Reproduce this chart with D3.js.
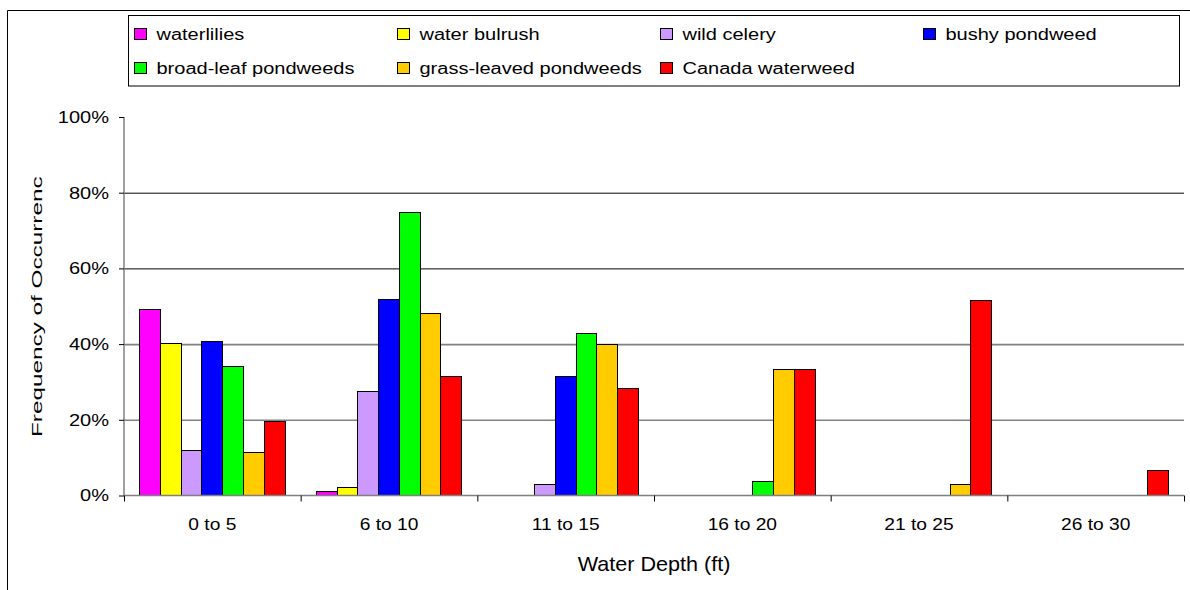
<!DOCTYPE html>
<html>
<head>
<meta charset="utf-8">
<script src="https://cdn.jsdelivr.net/npm/d3@7"></script>
<style>
  html, body { margin: 0; padding: 0; background: #fff; }
  svg { display: block; font-family: "Liberation Sans", Arial, sans-serif; }
</style>
</head>
<body>
<svg id="chart" width="1190" height="590"></svg>
<script>
// Depth classes along the x axis
const depthClasses = ["0 to 5", "6 to 10", "11 to 15", "16 to 20", "21 to 25", "26 to 30"];

// Plant groups (legend order) and their fill colours
const plantGroups = ["waterlilies", "water bulrush", "wild celery", "bushy pondweed",
                     "broad-leaf pondweeds", "grass-leaved pondweeds", "Canada waterweed"];
const groupColors = ["#FF00FF", "#FFFF00", "#CC99FF", "#0000FF", "#00FF00", "#FFCC00", "#FF0000"];

// Frequency of occurrence (%) per depth class, one array per plant group
const waterlilies        = [49.2, 1.1, 0,    0,    0,    0];
const waterBulrush       = [40.1, 2.2, 0,    0,    0,    0];
const wildCelery         = [12.0, 27.6, 3.0, 0,    0,    0];
const bushyPondweed      = [40.8, 51.8, 31.4, 0,   0,    0];
const broadLeafPondweeds = [34.0, 74.7, 42.7, 3.7, 0,    0];
const grassLeaved        = [11.3, 48.0, 40.0, 33.3, 3.0, 0];
const canadaWaterweed    = [19.6, 31.4, 28.4, 33.3, 51.5, 6.7];
const seriesValues = [waterlilies, waterBulrush, wildCelery, bushyPondweed,
                      broadLeafPondweeds, grassLeaved, canadaWaterweed];

// Axis ticks
const yTicks = [0, 20, 40, 60, 80, 100];
const gridTicks = [20, 40, 60, 80];

const svg = d3.select("#chart");
const plot = { left: 124, right: 1184, top: 117, bottom: 495.5 };
const textStretch = 1.25; // horizontal stretch applied to the small labels

const x0 = d3.scaleBand().domain(depthClasses).range([plot.left, plot.right]).padding(0);
const x1 = d3.scaleBand().domain(plantGroups).range([0, x0.bandwidth()])
  .paddingInner(0).paddingOuter(0.75);
const y = d3.scaleLinear().domain([0, 100]).range([plot.bottom, plot.top]);
const color = d3.scaleOrdinal().domain(plantGroups).range(groupColors);

// Outer chart frame (runs off the right and bottom edges)
svg.append("path")
  .attr("d", "M7.5,590 L7.5,10.5 L1190,10.5")
  .attr("fill", "none").attr("stroke", "#000").attr("stroke-width", 1);

// Horizontal gridlines
svg.append("g")
  .attr("transform", `translate(${plot.left},0)`)
  .call(d3.axisLeft(y).tickValues(gridTicks).tickSize(-(plot.right - plot.left)).tickFormat(""))
  .call(g => g.select(".domain").remove())
  .call(g => g.selectAll("line").attr("stroke", d => d < 50 ? "#808080" : "#000")
    .attr("stroke-width", d => d < 50 ? 1.6 : 1));

// Bars
const rows = depthClasses.map((c, i) => ({
  cat: c,
  vals: plantGroups.map((p, j) => ({ group: p, value: seriesValues[j][i] }))
}));
svg.append("g").selectAll("g")
  .data(rows).join("g")
  .attr("transform", d => `translate(${x0(d.cat)},0)`)
  .selectAll("rect")
  .data(d => d.vals.filter(v => v.value > 0))
  .join("rect")
  .attr("x", d => x1(d.group))
  .attr("y", d => y(d.value))
  .attr("width", x1.bandwidth())
  .attr("height", d => y(0) - y(d.value))
  .attr("fill", d => color(d.group))
  .attr("stroke", "#000").attr("stroke-width", 1)
  .attr("shape-rendering", "crispEdges");

// Stretch a label horizontally around its own anchor
function stretch(sel, k) {
  sel.each(function () {
    const t = d3.select(this);
    const xv = +t.attr("x") || 0;
    t.attr("x", xv / k).attr("transform", `scale(${k},1)`);
  });
}

// Y axis
svg.append("g")
  .attr("transform", `translate(${plot.left},0)`)
  .call(d3.axisLeft(y).tickValues(yTicks).tickSize(5).tickPadding(10).tickFormat(d => d + "%"))
  .call(g => g.select(".domain").attr("stroke", "#808080").attr("stroke-width", 1.5)
    .attr("d", `M0,${plot.top}V${plot.bottom}`))
  .call(g => g.selectAll(".tick line").attr("stroke", "#000"))
  .call(g => g.selectAll("text").attr("font-size", 16).attr("fill", "#000")
    .attr("font-family", "Liberation Sans, Arial, sans-serif").attr("dy", "0.34em"))
  .call(g => stretch(g.selectAll("text"), textStretch));

// X axis line with ticks on category boundaries
const xEdges = d3.scaleLinear().domain([0, depthClasses.length]).range([plot.left, plot.right]);
svg.append("g")
  .attr("transform", `translate(0,${plot.bottom})`)
  .call(d3.axisBottom(xEdges).ticks(depthClasses.length).tickSize(6).tickFormat(""))
  .call(g => g.select(".domain").attr("stroke", "#808080").attr("stroke-width", 1.5)
    .attr("d", `M${plot.left},0H${plot.right}`))
  .call(g => g.selectAll(".tick line").attr("stroke", "#000"));

// X category labels
svg.append("g")
  .attr("transform", `translate(0,${plot.bottom})`)
  .call(d3.axisBottom(x0).tickSize(0).tickPadding(23))
  .call(g => g.select(".domain").remove())
  .call(g => g.selectAll("text").attr("font-size", 16).attr("fill", "#000")
    .attr("font-family", "Liberation Sans, Arial, sans-serif"))
  .call(g => stretch(g.selectAll("text"), 1.2));

// X axis title
svg.append("text")
  .attr("transform", `translate(${(plot.left + plot.right) / 2},571) scale(1.08,1)`)
  .attr("text-anchor", "middle")
  .attr("font-size", 20)
  .text("Water Depth (ft)");

// Y axis title, clipped at the top like the original text box
svg.append("clipPath").attr("id", "ytitle-clip")
  .append("rect").attr("x", 0).attr("y", 177).attr("width", 110).attr("height", 400);
svg.append("g").attr("clip-path", "url(#ytitle-clip)")
  .append("text")
  .attr("transform", "translate(42,437) rotate(-90) scale(1.62,1)")
  .attr("font-size", 15)
  .text("Frequency of Occurrence");

// Legend
const legend = svg.append("g");
legend.append("rect")
  .attr("x", 128.5).attr("y", 15.5).attr("width", 1051).attr("height", 70.5)
  .attr("fill", "#fff").attr("stroke", "#000").attr("stroke-width", 1);
const colStep = 263, rowYs = [34, 68];
const items = legend.selectAll("g.item")
  .data(plantGroups).join("g").attr("class", "item")
  .attr("transform", (d, i) => `translate(${134 + (i % 4) * colStep},${rowYs[Math.floor(i / 4)]})`);
items.append("rect")
  .attr("x", 0.5).attr("y", -5.5).attr("width", 12).attr("height", 11)
  .attr("fill", d => color(d)).attr("stroke", "#000").attr("stroke-width", 1);
items.append("text")
  .attr("x", 22.5 / textStretch).attr("y", 5.5)
  .attr("transform", `scale(${textStretch},1)`)
  .attr("font-size", 16)
  .text(d => d);
</script>
</body>
</html>
